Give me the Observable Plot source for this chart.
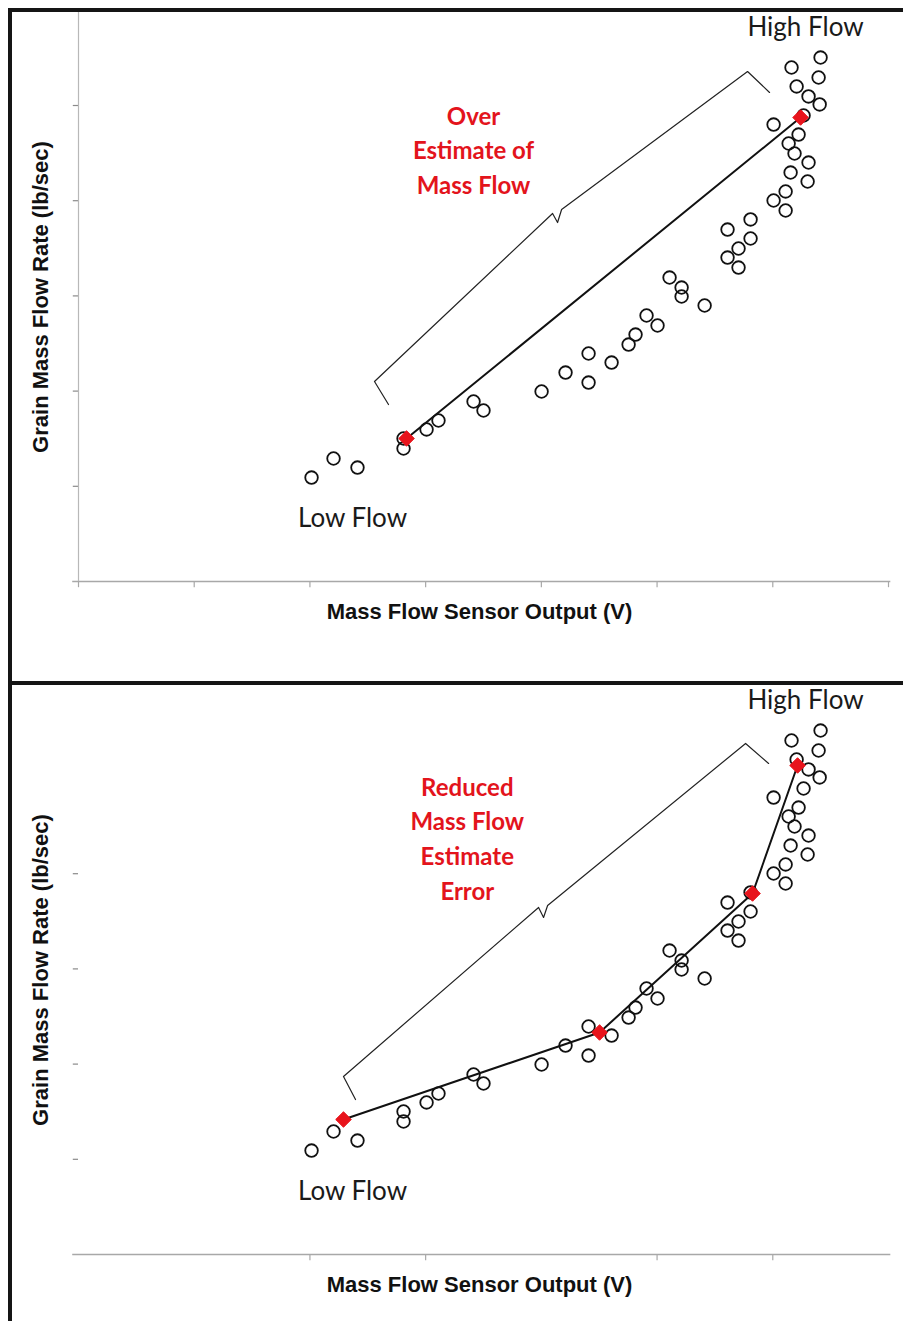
<!DOCTYPE html>
<html>
<head>
<meta charset="utf-8">
<script src="https://cdn.jsdelivr.net/npm/d3@7"></script>
<script src="https://cdn.jsdelivr.net/npm/@observablehq/plot@0.6"></script>
<style>
  html, body { margin: 0; padding: 0; width: 903px; height: 1321px; overflow: hidden; background: #fff; }
  .panel { position: absolute; left: 8px; width: 895px; height: 669px; border-top: 4px solid #151515; border-left: 4px solid #151515; overflow: hidden; background: #fff; }
  #p1 { top: 8px; }
  #p2 { top: 681px; height: 640px; }
</style>
</head>
<body>
<div class="panel" id="p1"></div>
<div class="panel" id="p2"></div>
<script>
// Observed points: mass flow sensor output (V, axis units) vs grain mass flow rate (axis units)
const sensorV = [2.014, 2.204, 2.411, 2.809, 2.809, 3.008, 3.111, 3.414, 3.500, 4.002,
  4.209, 4.408, 4.408, 4.607, 4.754, 4.814, 4.909, 5.004, 5.108, 5.212,
  5.212, 5.411, 5.609, 5.609, 5.704, 5.704, 5.808, 5.808, 6.007, 6.111,
  6.111, 6.154, 6.301, 6.309, 6.188, 6.137, 6.223, 6.007, 6.266, 6.405,
  6.309, 6.206, 6.396, 6.162, 6.413];
const flowRate = [1.092, 1.292, 1.197, 1.502, 1.397, 1.597, 1.691, 1.891, 1.796, 1.996,
  2.195, 2.395, 2.090, 2.300, 2.489, 2.594, 2.794, 2.689, 3.193, 3.088,
  2.994, 2.899, 3.697, 3.403, 3.498, 3.298, 3.803, 3.603, 4.002, 4.097,
  3.897, 4.296, 4.202, 4.401, 4.496, 4.601, 4.695, 4.800, 4.895, 5.011,
  5.095, 5.200, 5.294, 5.399, 5.504];

// Two-point calibration (top) and multi-point calibration (bottom)
const twoPointV = [2.835, 6.240];
const twoPointRate = [1.502, 4.874];
const multiPointV = [2.290, 4.503, 5.825, 6.214];
const multiPointRate = [1.418, 2.332, 3.792, 5.137];

// Bracket annotations (axis units)
const bracketTopV = [2.679, 2.558, 4.097, 4.140, 4.175, 5.782, 5.972];
const bracketTopRate = [1.859, 2.101, 3.866, 3.771, 3.908, 5.357, 5.137];
const bracketBottomV = [2.394, 2.290, 3.976, 4.019, 4.054, 5.765, 5.964];
const bracketBottomRate = [1.628, 1.870, 3.645, 3.540, 3.666, 5.368, 5.158];

// Text
const xTitle = "Mass Flow Sensor Output (V)";
const yTitle = "Grain Mass Flow Rate (lb/sec)";
const highLabel = "High Flow";
const lowLabel = "Low Flow";
const highPos = [6.283, 5.82];
const lowPos = [2.368, 0.662];
const topNote = "Over\nEstimate of\nMass Flow";
const topNotePos = [3.414, 4.55];
const bottomNote = "Reduced\nMass Flow\nEstimate\nError";
const bottomNotePos = [3.36, 4.39];

// Ticks
const xTicksTop = [0, 1, 2, 3, 4, 5, 6, 7];
const yTicksTop = [1, 2, 3, 4, 5];
const xTicksBottom = [2, 3, 5, 6];
const yTicksBottom = [1, 2, 3, 4];

const points = sensorV.map((v, i) => ({v, r: flowRate[i]}));
const zip = (a, b) => a.map((v, i) => ({v, r: b[i]}));

const titleFont = "'Liberation Sans Narrow', 'Arial Narrow', 'Liberation Sans', sans-serif";
const labelFont = "Lato, 'Open Sans', sans-serif";

function panel({xTicks, yTicks, yAxisLine, calib, bracket, note, notePos}) {
  const marks = [
    Plot.ruleY([0], {x1: -0.05, x2: 7.02, stroke: "#a8a8a8", strokeWidth: 1.6}),
    Plot.ruleX(xTicks, {x: d => d, y1: 0, y2: -0.065, stroke: "#a8a8a8", strokeWidth: 1.2}),
    Plot.ruleY(yTicks, {y: d => d, x1: -0.045, x2: 0, stroke: "#8a8a8a", strokeWidth: 1.2}),
  ];
  if (yAxisLine) marks.push(Plot.ruleX([0], {y1: 0, y2: 5.977, stroke: "#b8b8b8", strokeWidth: 1.2}));
  marks.push(
    Plot.line(bracket, {x: "v", y: "r", stroke: "#222", strokeWidth: 1.2, curve: "linear"}),
    Plot.dot(points, {x: "v", y: "r", r: 6.3, stroke: "#111", strokeWidth: 1.8, fill: "none"}),
    Plot.line(calib, {x: "v", y: "r", stroke: "#111", strokeWidth: 2}),
    Plot.dot(calib, {x: "v", y: "r", symbol: "diamond2", r: 7, fill: "#e8141c", stroke: "#e8141c", strokeWidth: 1}),
    Plot.text([highLabel], {x: highPos[0], y: highPos[1], fontSize: 26, fontFamily: labelFont, fill: "#1a1a1a"}),
    Plot.text([lowLabel], {x: lowPos[0], y: lowPos[1], fontSize: 26, fontFamily: labelFont, fill: "#1a1a1a"}),
    Plot.text([note], {x: notePos[0], y: notePos[1], fontSize: 24, fontWeight: "bold", fontFamily: labelFont, fill: "#e3141c", lineHeight: 1.45}),
    Plot.text([xTitle], {frameAnchor: "bottom", dy: 37, dx: -4, fontSize: 22, fontWeight: "bold", fontFamily: titleFont, fill: "#111"}),
    Plot.text([yTitle], {frameAnchor: "left", textAnchor: "middle", dx: -38, rotate: -90, fontSize: 22, fontWeight: "bold", fontFamily: titleFont, fill: "#111"})
  );
  return Plot.plot({
    width: 891,
    height: 669,
    marginLeft: 66,
    marginRight: 15,
    marginTop: 0,
    marginBottom: 100,
    x: {domain: [0, 7], axis: null},
    y: {domain: [0, 5.977], axis: null},
    style: {background: "white", overflow: "visible"},
    marks
  });
}

document.getElementById("p1").append(panel({
  xTicks: xTicksTop, yTicks: yTicksTop, yAxisLine: true,
  calib: zip(twoPointV, twoPointRate),
  bracket: zip(bracketTopV, bracketTopRate),
  note: topNote, notePos: topNotePos
}));
document.getElementById("p2").append(panel({
  xTicks: xTicksBottom, yTicks: yTicksBottom, yAxisLine: false,
  calib: zip(multiPointV, multiPointRate),
  bracket: zip(bracketBottomV, bracketBottomRate),
  note: bottomNote, notePos: bottomNotePos
}));
</script>
</body>
</html>
